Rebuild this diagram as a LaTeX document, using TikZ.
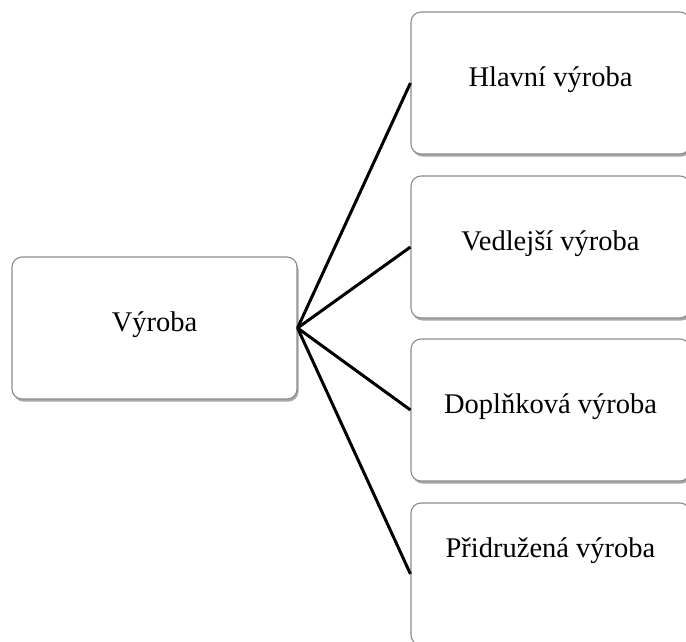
\documentclass[tikz,border=0pt]{standalone}
\usepackage{fontspec}
\setmainfont{Liberation Serif}
\usetikzlibrary{shadows}
\begin{document}
\begin{tikzpicture}[x=1pt,y=-1pt,
  boxstyle/.style={draw=black!45, line width=1.1pt, rounded corners=10pt, fill=white,
    inner sep=0pt, text height=0.85em, text depth=0.15em,
    font=\fontsize{28.5}{34}\selectfont,
    drop shadow={shadow xshift=1.5pt, shadow yshift=-2.5pt, opacity=0.35, fill=black}},
  linkstyle/.style={line width=3pt, black}]
\useasboundingbox (0,0) rectangle (686,641);
\clip (0,0) rectangle (686,641);
\node[boxstyle, minimum width=285pt, minimum height=142pt] (root) at (154.5,328) {Výroba};
\node[boxstyle, minimum width=279pt, minimum height=142pt] (b1) at (550.5,83) {Hlavní výroba};
\node[boxstyle, minimum width=279pt, minimum height=142pt] (b2) at (550.5,247) {Vedlejší výroba};
\node[boxstyle, minimum width=279pt, minimum height=142pt] (b3) at (550.5,410) {Doplňková výroba};
\node[boxstyle, minimum width=279pt, minimum height=142pt] (b4) at (550.5,574) {\raisebox{20pt}[\height][\depth]{Přidružená výroba}};
\coordinate (hub) at (root.east);
\foreach \b in {b1,b2,b3,b4} \draw[linkstyle] (hub) -- (\b.west);
\end{tikzpicture}
\end{document}
